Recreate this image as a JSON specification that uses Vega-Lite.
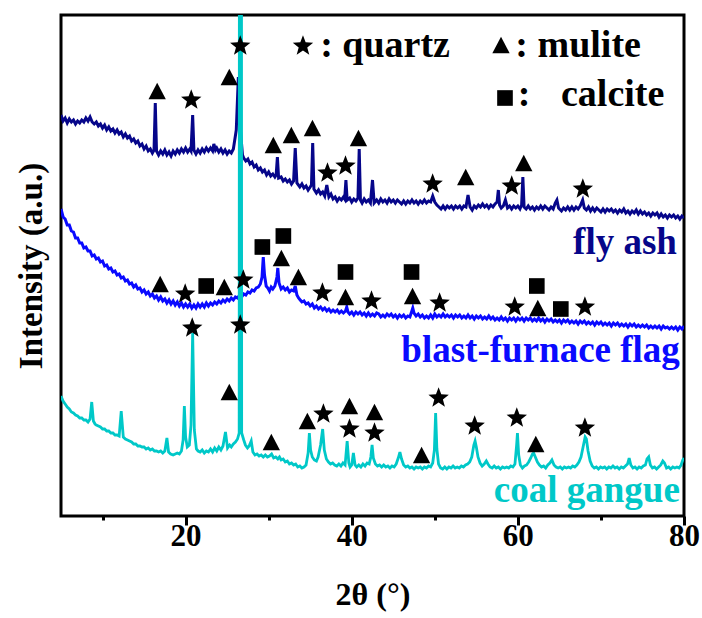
{
"$schema": "https://vega.github.io/schema/vega-lite/v6.json",
"width": 623, "height": 501,
"autosize": {"type": "none"},
"padding": {"left": 61, "top": 15, "right": 18, "bottom": 102},
"background": "white",
"config": {"view": {"stroke": "black", "strokeWidth": 3}, "font": "Liberation Serif"},
"datasets": {
"fa": [{"x":5,"y":400},{"x":5.25,"y":394},{"x":5.5,"y":397},{"x":5.75,"y":392},{"x":6,"y":396},{"x":6.25,"y":393},{"x":6.5,"y":395},{"x":6.75,"y":391},{"x":7,"y":394},{"x":7.25,"y":392},{"x":7.5,"y":395},{"x":7.75,"y":393},{"x":8,"y":397},{"x":8.25,"y":394},{"x":8.5,"y":398},{"x":8.75,"y":393},{"x":9,"y":391},{"x":9.25,"y":393},{"x":9.5,"y":389},{"x":9.75,"y":391},{"x":10,"y":387},{"x":10.25,"y":390},{"x":10.5,"y":385},{"x":10.75,"y":388},{"x":11,"y":384},{"x":11.25,"y":386},{"x":11.5,"y":382},{"x":11.75,"y":385},{"x":12,"y":381},{"x":12.25,"y":383},{"x":12.5,"y":378},{"x":12.75,"y":381},{"x":13,"y":377},{"x":13.25,"y":379},{"x":13.5,"y":374},{"x":13.75,"y":376},{"x":14,"y":372},{"x":14.25,"y":374},{"x":14.5,"y":369},{"x":14.75,"y":371},{"x":15,"y":366},{"x":15.25,"y":369},{"x":15.5,"y":364},{"x":15.75,"y":366},{"x":16,"y":362},{"x":16.2,"y":365},{"x":16.35,"y":412},{"x":16.5,"y":364},{"x":16.75,"y":360},{"x":17,"y":364},{"x":17.25,"y":361},{"x":17.5,"y":365},{"x":17.75,"y":360},{"x":18,"y":363},{"x":18.25,"y":359},{"x":18.5,"y":364},{"x":18.75,"y":361},{"x":19,"y":365},{"x":19.25,"y":362},{"x":19.5,"y":366},{"x":19.75,"y":363},{"x":20,"y":367},{"x":20.25,"y":363},{"x":20.5,"y":366},{"x":20.65,"y":364},{"x":20.85,"y":400},{"x":21,"y":365},{"x":21.25,"y":361},{"x":21.5,"y":365},{"x":21.75,"y":362},{"x":22,"y":366},{"x":22.25,"y":363},{"x":22.5,"y":367},{"x":22.75,"y":364},{"x":23,"y":367},{"x":23.25,"y":364},{"x":23.4,"y":371},{"x":23.6,"y":365},{"x":23.75,"y":367},{"x":24,"y":363},{"x":24.25,"y":366},{"x":24.5,"y":362},{"x":24.75,"y":365},{"x":25,"y":361},{"x":25.25,"y":364},{"x":25.5,"y":362},{"x":25.75,"y":366},{"x":26.1,"y":385},{"x":26.35,"y":438},{"x":26.6,"y":385},{"x":26.85,"y":360},{"x":27,"y":357},{"x":27.25,"y":354},{"x":27.5,"y":356},{"x":27.75,"y":351},{"x":28,"y":353},{"x":28.25,"y":348},{"x":28.5,"y":350},{"x":28.75,"y":345},{"x":29,"y":347},{"x":29.25,"y":343},{"x":29.5,"y":345},{"x":29.75,"y":340},{"x":30,"y":343},{"x":30.25,"y":339},{"x":30.5,"y":341},{"x":30.75,"y":338},{"x":30.9,"y":340},{"x":31.05,"y":358},{"x":31.2,"y":337},{"x":31.5,"y":338},{"x":31.75,"y":334},{"x":32,"y":336},{"x":32.25,"y":333},{"x":32.5,"y":335},{"x":32.75,"y":331},{"x":33,"y":334},{"x":33.2,"y":367},{"x":33.4,"y":332},{"x":33.75,"y":328},{"x":34,"y":331},{"x":34.25,"y":327},{"x":34.5,"y":329},{"x":34.75,"y":325},{"x":35,"y":328},{"x":35.15,"y":330},{"x":35.3,"y":372},{"x":35.45,"y":326},{"x":35.75,"y":322},{"x":36,"y":325},{"x":36.25,"y":321},{"x":36.5,"y":323},{"x":36.75,"y":319},{"x":37,"y":330},{"x":37.25,"y":318},{"x":37.5,"y":321},{"x":37.75,"y":316},{"x":38,"y":318},{"x":38.25,"y":314},{"x":38.5,"y":317},{"x":38.75,"y":315},{"x":39,"y":318},{"x":39.15,"y":316},{"x":39.3,"y":335},{"x":39.45,"y":315},{"x":39.75,"y":317},{"x":40,"y":313},{"x":40.25,"y":316},{"x":40.5,"y":314},{"x":40.75,"y":317},{"x":40.9,"y":366},{"x":41.05,"y":315},{"x":41.25,"y":312},{"x":41.5,"y":316},{"x":41.75,"y":313},{"x":42,"y":315},{"x":42.25,"y":312},{"x":42.5,"y":335},{"x":42.7,"y":312},{"x":43,"y":315},{"x":43.25,"y":312},{"x":43.5,"y":316},{"x":43.75,"y":313},{"x":44,"y":315},{"x":44.25,"y":312},{"x":44.5,"y":316},{"x":44.75,"y":313},{"x":45,"y":315},{"x":45.25,"y":312},{"x":45.5,"y":315},{"x":45.75,"y":313},{"x":46,"y":311},{"x":46.25,"y":314},{"x":46.5,"y":311},{"x":46.75,"y":314},{"x":47,"y":312},{"x":47.25,"y":315},{"x":47.5,"y":312},{"x":47.75,"y":314},{"x":48,"y":311},{"x":48.25,"y":314},{"x":48.5,"y":312},{"x":48.75,"y":315},{"x":49,"y":312},{"x":49.25,"y":314},{"x":49.5,"y":313},{"x":49.75,"y":319},{"x":50,"y":313},{"x":50.25,"y":310},{"x":50.5,"y":308},{"x":50.75,"y":306},{"x":51,"y":309},{"x":51.25,"y":306},{"x":51.5,"y":309},{"x":51.75,"y":307},{"x":52,"y":309},{"x":52.25,"y":306},{"x":52.5,"y":309},{"x":52.75,"y":307},{"x":53,"y":309},{"x":53.25,"y":306},{"x":53.5,"y":309},{"x":53.75,"y":308},{"x":54,"y":320},{"x":54.25,"y":308},{"x":54.5,"y":305},{"x":54.75,"y":309},{"x":55,"y":307},{"x":55.25,"y":310},{"x":55.5,"y":308},{"x":55.75,"y":311},{"x":56,"y":308},{"x":56.25,"y":310},{"x":56.5,"y":307},{"x":56.75,"y":310},{"x":57,"y":308},{"x":57.25,"y":311},{"x":57.5,"y":313},{"x":57.65,"y":325},{"x":57.8,"y":310},{"x":58,"y":307},{"x":58.25,"y":309},{"x":58.5,"y":315},{"x":58.75,"y":307},{"x":59,"y":309},{"x":59.25,"y":306},{"x":59.5,"y":309},{"x":59.75,"y":307},{"x":60,"y":309},{"x":60.25,"y":306},{"x":60.45,"y":310},{"x":60.6,"y":338},{"x":60.75,"y":308},{"x":61,"y":306},{"x":61.25,"y":309},{"x":61.5,"y":306},{"x":61.75,"y":308},{"x":62,"y":305},{"x":62.25,"y":308},{"x":62.5,"y":306},{"x":62.75,"y":309},{"x":63,"y":306},{"x":63.25,"y":309},{"x":63.5,"y":307},{"x":63.75,"y":305},{"x":64,"y":308},{"x":64.25,"y":306},{"x":64.5,"y":312},{"x":64.7,"y":315},{"x":64.9,"y":307},{"x":65.25,"y":304},{"x":65.5,"y":307},{"x":65.75,"y":305},{"x":66,"y":308},{"x":66.25,"y":305},{"x":66.5,"y":308},{"x":66.75,"y":305},{"x":67,"y":308},{"x":67.25,"y":306},{"x":67.5,"y":309},{"x":67.8,"y":315},{"x":68,"y":307},{"x":68.25,"y":305},{"x":68.5,"y":308},{"x":68.75,"y":304},{"x":69,"y":307},{"x":69.25,"y":304},{"x":69.5,"y":307},{"x":69.75,"y":305},{"x":70,"y":303},{"x":70.25,"y":306},{"x":70.5,"y":303},{"x":70.75,"y":306},{"x":71,"y":304},{"x":71.25,"y":306},{"x":71.5,"y":303},{"x":71.75,"y":305},{"x":72,"y":302},{"x":72.25,"y":305},{"x":72.5,"y":303},{"x":72.75,"y":306},{"x":73,"y":302},{"x":73.25,"y":304},{"x":73.5,"y":301},{"x":73.75,"y":304},{"x":74,"y":302},{"x":74.25,"y":305},{"x":74.5,"y":301},{"x":74.75,"y":304},{"x":75,"y":301},{"x":75.25,"y":303},{"x":75.5,"y":300},{"x":75.75,"y":302},{"x":76,"y":299},{"x":76.25,"y":302},{"x":76.5,"y":300},{"x":76.75,"y":302},{"x":77,"y":298},{"x":77.25,"y":301},{"x":77.5,"y":298},{"x":77.75,"y":300},{"x":78,"y":297},{"x":78.25,"y":300},{"x":78.5,"y":298},{"x":78.75,"y":300},{"x":79,"y":297},{"x":79.25,"y":299},{"x":79.5,"y":296},{"x":79.75,"y":299},{"x":80,"y":297}],
"bf": [{"x":5,"y":306},{"x":5.25,"y":298},{"x":5.5,"y":296},{"x":5.75,"y":290},{"x":6,"y":290},{"x":6.25,"y":284},{"x":6.5,"y":283},{"x":6.75,"y":277},{"x":7,"y":277},{"x":7.25,"y":272},{"x":7.5,"y":272},{"x":7.75,"y":267},{"x":8,"y":268},{"x":8.25,"y":264},{"x":8.5,"y":264},{"x":8.75,"y":259},{"x":9,"y":260},{"x":9.25,"y":256},{"x":9.5,"y":257},{"x":9.75,"y":253},{"x":10,"y":254},{"x":10.25,"y":249},{"x":10.5,"y":250},{"x":10.75,"y":246},{"x":11,"y":247},{"x":11.25,"y":243},{"x":11.5,"y":244},{"x":11.75,"y":240},{"x":12,"y":241},{"x":12.25,"y":237},{"x":12.5,"y":238},{"x":12.75,"y":234},{"x":13,"y":235},{"x":13.25,"y":231},{"x":13.5,"y":232},{"x":13.75,"y":228},{"x":14,"y":230},{"x":14.25,"y":226},{"x":14.5,"y":227},{"x":14.75,"y":223},{"x":15,"y":225},{"x":15.25,"y":221},{"x":15.5,"y":223},{"x":15.75,"y":219},{"x":16,"y":221},{"x":16.25,"y":217},{"x":16.5,"y":219},{"x":16.75,"y":215},{"x":17,"y":218},{"x":17.25,"y":214},{"x":17.5,"y":216},{"x":17.75,"y":212},{"x":18,"y":215},{"x":18.25,"y":211},{"x":18.5,"y":214},{"x":18.75,"y":210},{"x":19,"y":213},{"x":19.25,"y":209},{"x":19.5,"y":212},{"x":19.75,"y":208},{"x":20,"y":211},{"x":20.25,"y":208},{"x":20.5,"y":211},{"x":20.75,"y":207},{"x":21,"y":210},{"x":21.25,"y":207},{"x":21.5,"y":211},{"x":21.75,"y":208},{"x":22,"y":211},{"x":22.25,"y":208},{"x":22.5,"y":212},{"x":22.75,"y":209},{"x":23,"y":212},{"x":23.25,"y":210},{"x":23.5,"y":213},{"x":23.75,"y":211},{"x":24,"y":214},{"x":24.25,"y":212},{"x":24.5,"y":215},{"x":24.75,"y":213},{"x":25,"y":216},{"x":25.25,"y":214},{"x":25.5,"y":217},{"x":25.75,"y":215},{"x":26,"y":218},{"x":26.25,"y":217},{"x":26.5,"y":220},{"x":26.75,"y":218},{"x":27,"y":221},{"x":27.25,"y":220},{"x":27.5,"y":223},{"x":27.75,"y":222},{"x":28,"y":225},{"x":28.25,"y":224},{"x":28.5,"y":227},{"x":28.75,"y":228},{"x":29,"y":231},{"x":29.2,"y":238},{"x":29.35,"y":258},{"x":29.5,"y":240},{"x":29.7,"y":229},{"x":29.9,"y":227},{"x":30.1,"y":224},{"x":30.3,"y":228},{"x":30.5,"y":226},{"x":30.75,"y":229},{"x":31,"y":238},{"x":31.1,"y":247},{"x":31.25,"y":232},{"x":31.5,"y":226},{"x":31.75,"y":228},{"x":32,"y":225},{"x":32.25,"y":227},{"x":32.5,"y":223},{"x":32.75,"y":225},{"x":33,"y":224},{"x":33.2,"y":229},{"x":33.4,"y":220},{"x":33.6,"y":217},{"x":33.8,"y":215},{"x":34,"y":213},{"x":34.25,"y":214},{"x":34.5,"y":211},{"x":34.75,"y":212},{"x":35,"y":209},{"x":35.25,"y":211},{"x":35.5,"y":207},{"x":35.75,"y":209},{"x":36,"y":206},{"x":36.25,"y":208},{"x":36.5,"y":205},{"x":36.75,"y":207},{"x":37,"y":204},{"x":37.25,"y":206},{"x":37.5,"y":203},{"x":37.75,"y":205},{"x":38,"y":203},{"x":38.25,"y":205},{"x":38.5,"y":202},{"x":38.75,"y":204},{"x":39,"y":202},{"x":39.25,"y":204},{"x":39.4,"y":208},{"x":39.55,"y":203},{"x":39.75,"y":201},{"x":40,"y":203},{"x":40.25,"y":200},{"x":40.5,"y":203},{"x":40.75,"y":201},{"x":41,"y":203},{"x":41.25,"y":200},{"x":41.5,"y":202},{"x":41.75,"y":199},{"x":42,"y":202},{"x":42.25,"y":199},{"x":42.5,"y":201},{"x":42.75,"y":199},{"x":43,"y":202},{"x":43.25,"y":201},{"x":43.5,"y":198},{"x":43.75,"y":200},{"x":44,"y":198},{"x":44.25,"y":201},{"x":44.5,"y":199},{"x":44.75,"y":201},{"x":45,"y":198},{"x":45.25,"y":200},{"x":45.5,"y":197},{"x":45.75,"y":200},{"x":46,"y":198},{"x":46.25,"y":200},{"x":46.5,"y":197},{"x":46.75,"y":199},{"x":47,"y":198},{"x":47.2,"y":203},{"x":47.35,"y":207},{"x":47.5,"y":202},{"x":47.75,"y":199},{"x":48,"y":201},{"x":48.25,"y":198},{"x":48.5,"y":200},{"x":48.75,"y":197},{"x":49,"y":199},{"x":49.25,"y":197},{"x":49.5,"y":200},{"x":49.75,"y":197},{"x":50,"y":201},{"x":50.25,"y":198},{"x":50.5,"y":200},{"x":50.75,"y":198},{"x":51,"y":201},{"x":51.25,"y":198},{"x":51.5,"y":200},{"x":51.75,"y":198},{"x":52,"y":200},{"x":52.25,"y":197},{"x":52.5,"y":200},{"x":52.75,"y":198},{"x":53,"y":200},{"x":53.25,"y":197},{"x":53.5,"y":199},{"x":53.75,"y":197},{"x":54,"y":200},{"x":54.25,"y":197},{"x":54.5,"y":199},{"x":54.75,"y":196},{"x":55,"y":199},{"x":55.25,"y":197},{"x":55.5,"y":199},{"x":55.75,"y":196},{"x":56,"y":198},{"x":56.25,"y":196},{"x":56.5,"y":199},{"x":56.75,"y":196},{"x":57,"y":198},{"x":57.25,"y":195},{"x":57.5,"y":197},{"x":57.75,"y":195},{"x":58,"y":198},{"x":58.25,"y":195},{"x":58.5,"y":197},{"x":58.75,"y":194},{"x":59,"y":197},{"x":59.25,"y":195},{"x":59.5,"y":197},{"x":59.75,"y":194},{"x":60,"y":197},{"x":60.25,"y":195},{"x":60.5,"y":197},{"x":60.75,"y":194},{"x":61,"y":197},{"x":61.25,"y":195},{"x":61.5,"y":197},{"x":61.75,"y":194},{"x":62,"y":196},{"x":62.25,"y":194},{"x":62.5,"y":197},{"x":62.75,"y":194},{"x":63,"y":196},{"x":63.25,"y":193},{"x":63.5,"y":196},{"x":63.75,"y":194},{"x":64,"y":196},{"x":64.25,"y":193},{"x":64.5,"y":195},{"x":64.75,"y":193},{"x":65,"y":195},{"x":65.25,"y":192},{"x":65.5,"y":195},{"x":65.75,"y":193},{"x":66,"y":195},{"x":66.25,"y":192},{"x":66.5,"y":194},{"x":66.75,"y":192},{"x":67,"y":194},{"x":67.25,"y":191},{"x":67.5,"y":194},{"x":67.75,"y":192},{"x":68,"y":194},{"x":68.25,"y":191},{"x":68.5,"y":193},{"x":68.75,"y":191},{"x":69,"y":193},{"x":69.25,"y":190},{"x":69.5,"y":193},{"x":69.75,"y":191},{"x":70,"y":193},{"x":70.25,"y":190},{"x":70.5,"y":192},{"x":70.75,"y":190},{"x":71,"y":192},{"x":71.25,"y":189},{"x":71.5,"y":192},{"x":71.75,"y":190},{"x":72,"y":192},{"x":72.25,"y":189},{"x":72.5,"y":191},{"x":72.75,"y":189},{"x":73,"y":191},{"x":73.25,"y":188},{"x":73.5,"y":191},{"x":73.75,"y":189},{"x":74,"y":191},{"x":74.25,"y":188},{"x":74.5,"y":190},{"x":74.75,"y":188},{"x":75,"y":190},{"x":75.25,"y":188},{"x":75.5,"y":190},{"x":75.75,"y":187},{"x":76,"y":189},{"x":76.25,"y":187},{"x":76.5,"y":189},{"x":76.75,"y":187},{"x":77,"y":189},{"x":77.25,"y":186},{"x":77.5,"y":189},{"x":77.75,"y":187},{"x":78,"y":188},{"x":78.25,"y":186},{"x":78.5,"y":188},{"x":78.75,"y":186},{"x":79,"y":188},{"x":79.25,"y":185},{"x":79.5,"y":188},{"x":79.75,"y":186},{"x":80,"y":189}],
"cg": [{"x":5,"y":119},{"x":5.25,"y":114},{"x":5.5,"y":111},{"x":5.75,"y":108},{"x":6,"y":106},{"x":6.25,"y":103},{"x":6.5,"y":102},{"x":6.75,"y":100},{"x":7,"y":99},{"x":7.25,"y":97},{"x":7.5,"y":97},{"x":7.75,"y":95},{"x":8,"y":95},{"x":8.25,"y":93},{"x":8.5,"y":96},{"x":8.7,"y":113},{"x":8.9,"y":94},{"x":9.1,"y":91},{"x":9.25,"y":90},{"x":9.5,"y":89},{"x":9.75,"y":88},{"x":10,"y":86},{"x":10.25,"y":86},{"x":10.5,"y":84},{"x":10.75,"y":84},{"x":11,"y":82},{"x":11.25,"y":82},{"x":11.5,"y":80},{"x":11.75,"y":80},{"x":12,"y":79},{"x":12.25,"y":104},{"x":12.5,"y":78},{"x":12.75,"y":76},{"x":13,"y":75},{"x":13.25,"y":74},{"x":13.5,"y":73},{"x":13.75,"y":71},{"x":14,"y":71},{"x":14.25,"y":69},{"x":14.5,"y":69},{"x":14.75,"y":68},{"x":15,"y":68},{"x":15.25,"y":66},{"x":15.5,"y":67},{"x":15.75,"y":65},{"x":16,"y":66},{"x":16.25,"y":64},{"x":16.5,"y":64},{"x":16.75,"y":63},{"x":17,"y":64},{"x":17.25,"y":62},{"x":17.5,"y":64},{"x":17.75,"y":77},{"x":17.95,"y":63},{"x":18.2,"y":61},{"x":18.5,"y":60},{"x":18.75,"y":61},{"x":19,"y":62},{"x":19.25,"y":61},{"x":19.5,"y":64},{"x":19.7,"y":75},{"x":19.85,"y":109},{"x":20,"y":78},{"x":20.2,"y":68},{"x":20.45,"y":70},{"x":20.65,"y":90},{"x":20.85,"y":182},{"x":21.05,"y":85},{"x":21.3,"y":66},{"x":21.5,"y":64},{"x":21.75,"y":63},{"x":22,"y":65},{"x":22.25,"y":62},{"x":22.5,"y":64},{"x":22.75,"y":63},{"x":23,"y":66},{"x":23.25,"y":63},{"x":23.5,"y":67},{"x":23.75,"y":64},{"x":24,"y":68},{"x":24.25,"y":65},{"x":24.5,"y":69},{"x":24.8,"y":83},{"x":25.05,"y":67},{"x":25.3,"y":70},{"x":25.5,"y":68},{"x":25.75,"y":71},{"x":26,"y":73},{"x":26.25,"y":76},{"x":26.45,"y":82},{"x":26.6,"y":3000},{"x":26.75,"y":82},{"x":27,"y":75},{"x":27.2,"y":70},{"x":27.45,"y":67},{"x":27.65,"y":69},{"x":27.9,"y":74},{"x":28.1,"y":63},{"x":28.35,"y":60},{"x":28.6,"y":61},{"x":28.85,"y":59},{"x":29.1,"y":60},{"x":29.35,"y":58},{"x":29.6,"y":60},{"x":29.85,"y":58},{"x":30.1,"y":59},{"x":30.35,"y":61},{"x":30.6,"y":57},{"x":30.85,"y":58},{"x":31.1,"y":56},{"x":31.3,"y":58},{"x":31.5,"y":55},{"x":31.75,"y":56},{"x":32,"y":53},{"x":32.25,"y":54},{"x":32.5,"y":51},{"x":32.75,"y":52},{"x":33,"y":50},{"x":33.25,"y":51},{"x":33.5,"y":48},{"x":33.75,"y":49},{"x":34,"y":47},{"x":34.25,"y":48},{"x":34.5,"y":50},{"x":34.75,"y":62},{"x":34.9,"y":82},{"x":35.05,"y":65},{"x":35.25,"y":58},{"x":35.5,"y":55},{"x":35.75,"y":54},{"x":35.95,"y":58},{"x":36.25,"y":70},{"x":36.5,"y":86},{"x":36.7,"y":65},{"x":36.95,"y":56},{"x":37.2,"y":53},{"x":37.45,"y":51},{"x":37.7,"y":52},{"x":37.95,"y":50},{"x":38.2,"y":49},{"x":38.45,"y":51},{"x":38.7,"y":49},{"x":38.95,"y":52},{"x":39.2,"y":50},{"x":39.45,"y":74},{"x":39.65,"y":52},{"x":39.8,"y":48},{"x":40,"y":50},{"x":40.2,"y":62},{"x":40.4,"y":50},{"x":40.6,"y":48},{"x":40.85,"y":50},{"x":41.1,"y":48},{"x":41.35,"y":51},{"x":41.6,"y":49},{"x":41.85,"y":52},{"x":42.1,"y":51},{"x":42.3,"y":58},{"x":42.45,"y":70},{"x":42.6,"y":57},{"x":42.85,"y":51},{"x":43.1,"y":49},{"x":43.35,"y":50},{"x":43.6,"y":48},{"x":43.85,"y":50},{"x":44.1,"y":48},{"x":44.35,"y":49},{"x":44.6,"y":47},{"x":44.85,"y":49},{"x":45.1,"y":48},{"x":45.35,"y":51},{"x":45.6,"y":57},{"x":45.8,"y":63},{"x":46,"y":56},{"x":46.25,"y":50},{"x":46.5,"y":48},{"x":46.75,"y":49},{"x":47,"y":47},{"x":47.25,"y":48},{"x":47.5,"y":46},{"x":47.75,"y":48},{"x":48,"y":47},{"x":48.25,"y":48},{"x":48.5,"y":46},{"x":48.75,"y":48},{"x":49,"y":47},{"x":49.25,"y":49},{"x":49.5,"y":48},{"x":49.75,"y":52},{"x":49.95,"y":65},{"x":50.1,"y":102},{"x":50.25,"y":66},{"x":50.45,"y":51},{"x":50.7,"y":47},{"x":50.95,"y":46},{"x":51.2,"y":48},{"x":51.45,"y":46},{"x":51.7,"y":48},{"x":51.95,"y":47},{"x":52.2,"y":49},{"x":52.45,"y":47},{"x":52.7,"y":48},{"x":52.95,"y":47},{"x":53.2,"y":49},{"x":53.45,"y":48},{"x":53.7,"y":50},{"x":53.95,"y":51},{"x":54.2,"y":53},{"x":54.45,"y":58},{"x":54.7,"y":70},{"x":54.85,"y":74},{"x":55,"y":68},{"x":55.2,"y":58},{"x":55.45,"y":52},{"x":55.7,"y":49},{"x":55.95,"y":51},{"x":56.2,"y":54},{"x":56.4,"y":51},{"x":56.65,"y":48},{"x":56.9,"y":47},{"x":57.15,"y":49},{"x":57.4,"y":47},{"x":57.65,"y":48},{"x":57.9,"y":46},{"x":58.15,"y":48},{"x":58.4,"y":47},{"x":58.65,"y":48},{"x":58.9,"y":47},{"x":59.15,"y":49},{"x":59.4,"y":48},{"x":59.65,"y":51},{"x":59.85,"y":70},{"x":59.95,"y":82},{"x":60.1,"y":60},{"x":60.3,"y":50},{"x":60.55,"y":47},{"x":60.8,"y":49},{"x":61.05,"y":50},{"x":61.3,"y":53},{"x":61.55,"y":57},{"x":61.75,"y":61},{"x":61.9,"y":62},{"x":62.1,"y":58},{"x":62.35,"y":53},{"x":62.6,"y":50},{"x":62.85,"y":48},{"x":63.1,"y":49},{"x":63.35,"y":47},{"x":63.6,"y":50},{"x":63.85,"y":52},{"x":64.1,"y":55},{"x":64.35,"y":50},{"x":64.6,"y":48},{"x":64.85,"y":47},{"x":65.1,"y":48},{"x":65.35,"y":46},{"x":65.6,"y":48},{"x":65.85,"y":47},{"x":66.1,"y":48},{"x":66.35,"y":47},{"x":66.6,"y":49},{"x":66.85,"y":48},{"x":67.1,"y":50},{"x":67.35,"y":53},{"x":67.6,"y":58},{"x":67.85,"y":68},{"x":68.1,"y":78},{"x":68.25,"y":76},{"x":68.45,"y":64},{"x":68.7,"y":54},{"x":68.95,"y":49},{"x":69.2,"y":47},{"x":69.45,"y":48},{"x":69.7,"y":46},{"x":69.95,"y":48},{"x":70.2,"y":47},{"x":70.45,"y":48},{"x":70.7,"y":46},{"x":70.95,"y":48},{"x":71.2,"y":47},{"x":71.45,"y":49},{"x":71.7,"y":47},{"x":71.95,"y":48},{"x":72.2,"y":46},{"x":72.45,"y":48},{"x":72.7,"y":47},{"x":72.95,"y":49},{"x":73.2,"y":51},{"x":73.4,"y":57},{"x":73.6,"y":50},{"x":73.85,"y":47},{"x":74.1,"y":48},{"x":74.35,"y":46},{"x":74.6,"y":48},{"x":74.85,"y":47},{"x":75.1,"y":49},{"x":75.35,"y":50},{"x":75.55,"y":56},{"x":75.75,"y":58},{"x":75.95,"y":50},{"x":76.2,"y":47},{"x":76.45,"y":48},{"x":76.7,"y":46},{"x":76.95,"y":48},{"x":77.2,"y":50},{"x":77.45,"y":54},{"x":77.65,"y":52},{"x":77.9,"y":47},{"x":78.15,"y":48},{"x":78.4,"y":46},{"x":78.65,"y":48},{"x":78.9,"y":47},{"x":79.15,"y":48},{"x":79.4,"y":47},{"x":79.65,"y":50},{"x":79.85,"y":55},{"x":80,"y":57}],
"sym": [
{"x":20.68,"y":415,"s":"S"},{"x":26.58,"y":469,"s":"S"},{"x":37.08,"y":342,"s":"S"},{"x":39.25,"y":349,"s":"S"},{"x":49.74,"y":331,"s":"S"},{"x":59.26,"y":329,"s":"S"},{"x":67.82,"y":326,"s":"S"},
{"x":19.95,"y":221,"s":"S"},{"x":26.95,"y":235,"s":"S"},{"x":36.47,"y":222,"s":"S"},{"x":42.38,"y":214,"s":"S"},{"x":50.58,"y":212,"s":"S"},{"x":59.62,"y":208,"s":"S"},{"x":68.07,"y":208,"s":"S"},
{"x":20.8,"y":187,"s":"S"},{"x":26.58,"y":190,"s":"S"},{"x":36.59,"y":101,"s":"S"},{"x":39.73,"y":86,"s":"S"},{"x":42.74,"y":82,"s":"S"},{"x":50.46,"y":117,"s":"S"},{"x":54.8,"y":89,"s":"S"},{"x":59.87,"y":97,"s":"S"},{"x":68.07,"y":87,"s":"S"},
{"x":34.13,"y":469,"s":"S"},
{"x":16.58,"y":424,"s":"T"},{"x":25.26,"y":438,"s":"T"},{"x":30.56,"y":370,"s":"T"},{"x":32.73,"y":380,"s":"T"},{"x":35.27,"y":387,"s":"T"},{"x":40.81,"y":377,"s":"T"},{"x":53.72,"y":338,"s":"T"},{"x":60.71,"y":352,"s":"T"},
{"x":16.94,"y":231,"s":"T"},{"x":24.66,"y":228,"s":"T"},{"x":31.53,"y":257,"s":"T"},{"x":33.58,"y":238,"s":"T"},{"x":39.25,"y":218,"s":"T"},{"x":47.32,"y":219,"s":"T"},{"x":62.4,"y":207,"s":"T"},
{"x":25.26,"y":123,"s":"T"},{"x":30.32,"y":73,"s":"T"},{"x":34.66,"y":94,"s":"T"},{"x":39.73,"y":109,"s":"T"},{"x":42.74,"y":103,"s":"T"},{"x":48.41,"y":60,"s":"T"},{"x":62.16,"y":71,"s":"T"},
{"x":57.97,"y":470,"s":"T"},
{"x":22.48,"y":229,"s":"Q"},{"x":29.24,"y":268,"s":"Q"},{"x":31.77,"y":279,"s":"Q"},{"x":39.25,"y":243,"s":"Q"},{"x":47.2,"y":243,"s":"Q"},{"x":62.28,"y":229,"s":"Q"},{"x":65.17,"y":206,"s":"Q"},
{"x":58.45,"y":417,"s":"Q"}
],
"lab": [{"x":79.15,"y":261,"t":"fly ash","g":"fa"},{"x":79.5,"y":153,"t":"blast-furnace flag","g":"bf"},{"x":79.5,"y":13,"t":"coal gangue","g":"cg"}],
"leg": [{"x":36.2,"y":458,"t":": quartz"},{"x":59.7,"y":458,"t":": mulite"},{"x":60.0,"y":409,"t":":"},{"x":65.19,"y":409,"t":"calcite"}]
},
"encoding": {
"x": {"field": "x", "type": "quantitative", "scale": {"domain": [5, 80], "nice": false, "zero": false},
 "axis": {"values": [10,20,30,40,50,60,70,80], "labelExpr": "datum.value % 20 === 0 ? datum.label : ''", "labelOverlap": false, "domain": false, "grid": false, "tickColor": "black", "tickWidth": 3,
 "tickSize": {"condition": {"test": "datum.value % 20 === 0", "value": 9}, "value": 4},
 "labelFont": "Liberation Serif", "labelFontSize": 31, "labelFontWeight": "bold", "labelColor": "black", "labelPadding": -4, "labelFlush": false,
 "title": "2θ (°)", "titleFont": "Liberation Serif", "titleFontSize": 32, "titleFontWeight": "bold", "titleColor": "black", "titlePadding": 28}},
"y": {"field": "y", "type": "quantitative", "scale": {"domain": [-1, 500], "nice": false, "zero": false},
 "axis": {"title": "Intensity (a.u.)", "labels": false, "ticks": false, "domain": false, "grid": false, "titleFont": "Liberation Serif", "titleFontSize": 33, "titleFontWeight": "bold", "titleColor": "black", "titlePadding": 13}}
},
"layer": [
{"data": {"name": "fa"}, "mark": {"type": "line", "color": "#06068a", "strokeWidth": 3, "clip": true}},
{"data": {"name": "bf"}, "mark": {"type": "line", "color": "#0a0aff", "strokeWidth": 3, "clip": true}},
{"data": {"name": "cg"}, "mark": {"type": "line", "color": "#00c8c8", "strokeWidth": 2.8, "clip": true}},
{"data": {"name": "sym"}, "transform": [{"filter": "datum.s == 'S'"}], "mark": {"type": "point", "filled": true, "color": "black", "opacity": 1, "size": 460, "shape": "M0,-1L0.247,-0.34L0.951,-0.309L0.399,0.13L0.588,0.809L0,0.42L-0.588,0.809L-0.399,0.13L-0.951,-0.309L-0.247,-0.34Z"}},
{"data": {"name": "sym"}, "transform": [{"filter": "datum.s == 'T'"}], "mark": {"type": "point", "filled": true, "color": "black", "opacity": 1, "size": 300, "shape": "M0,-0.95L1,0.95L-1,0.95Z"}},
{"data": {"name": "sym"}, "transform": [{"filter": "datum.s == 'Q'"}], "mark": {"type": "point", "filled": true, "color": "black", "opacity": 1, "size": 245, "shape": "square"}},
{"data": {"name": "lab"}, "transform": [{"filter": "datum.g == 'fa'"}], "mark": {"type": "text", "align": "right", "baseline": "alphabetic", "font": "Liberation Serif", "fontWeight": "bold", "fontSize": 37, "color": "#06068a"}, "encoding": {"text": {"field": "t"}}},
{"data": {"name": "lab"}, "transform": [{"filter": "datum.g == 'bf'"}], "mark": {"type": "text", "align": "right", "baseline": "alphabetic", "font": "Liberation Serif", "fontWeight": "bold", "fontSize": 37, "color": "#0a0aff"}, "encoding": {"text": {"field": "t"}}},
{"data": {"name": "lab"}, "transform": [{"filter": "datum.g == 'cg'"}], "mark": {"type": "text", "align": "right", "baseline": "alphabetic", "font": "Liberation Serif", "fontWeight": "bold", "fontSize": 37, "color": "#00c8c8"}, "encoding": {"text": {"field": "t"}}},
{"data": {"name": "leg"}, "mark": {"type": "text", "align": "left", "baseline": "alphabetic", "font": "Liberation Serif", "fontWeight": "bold", "fontSize": 38, "color": "black"}, "encoding": {"text": {"field": "t"}}}
]
}
